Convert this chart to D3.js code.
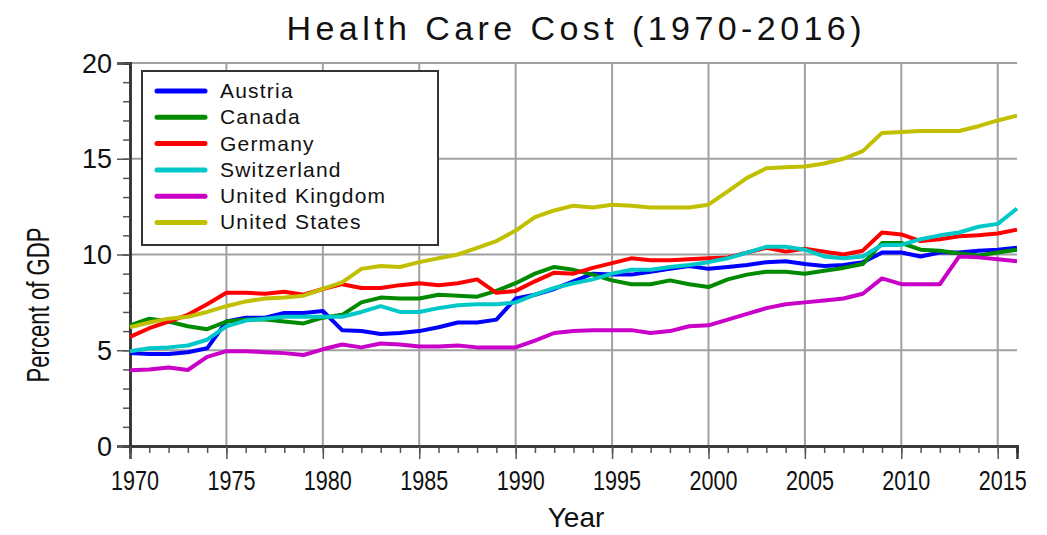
<!DOCTYPE html>
<html><head><meta charset="utf-8">
<script src="https://cdn.jsdelivr.net/npm/d3@7"></script>
<style>body{margin:0;background:#fff}svg{display:block}text{font-family:"Liberation Sans",Arial,sans-serif;fill:#111}</style>
</head><body><svg id="c" width="1047" height="535"></svg>
<script>
const years = d3.range(1970, 2017);
const countries = ["Austria","Canada","Germany","Switzerland","United Kingdom","United States"];
const colors = ["#0000ff","#008a00","#ff0000","#00c8c8","#c800c8","#c0c000"];
const austria = [4.85,4.8,4.8,4.9,5.1,6.5,6.7,6.7,6.95,6.95,7.05,6.05,6.0,5.85,5.9,6.0,6.2,6.45,6.45,6.6,7.7,7.9,8.2,8.6,9.0,8.95,8.95,9.1,9.25,9.4,9.25,9.35,9.45,9.6,9.65,9.5,9.4,9.45,9.6,10.1,10.1,9.9,10.1,10.1,10.2,10.25,10.35];
const canada = [6.3,6.65,6.5,6.25,6.1,6.5,6.6,6.6,6.5,6.4,6.7,6.85,7.5,7.75,7.7,7.7,7.9,7.85,7.8,8.1,8.5,9.0,9.35,9.2,8.95,8.65,8.45,8.45,8.65,8.45,8.3,8.7,8.95,9.1,9.1,9.0,9.15,9.3,9.5,10.6,10.6,10.25,10.2,10.05,9.95,10.1,10.25];
const germany = [5.7,6.15,6.5,6.85,7.4,8.0,8.0,7.95,8.05,7.9,8.2,8.45,8.25,8.25,8.4,8.5,8.4,8.5,8.7,8.0,8.1,8.6,9.05,9.0,9.3,9.55,9.8,9.7,9.7,9.75,9.8,9.85,10.1,10.35,10.15,10.3,10.15,10.0,10.2,11.15,11.05,10.7,10.8,10.95,11.0,11.1,11.3];
const switzerland = [4.95,5.1,5.15,5.25,5.55,6.25,6.55,6.65,6.75,6.75,6.75,6.75,7.0,7.3,7.0,7.0,7.2,7.35,7.4,7.4,7.5,7.9,8.25,8.5,8.7,9.0,9.2,9.2,9.35,9.45,9.6,9.8,10.1,10.4,10.4,10.25,9.9,9.8,9.9,10.5,10.5,10.8,11.0,11.15,11.45,11.6,12.4];
const uk = [3.95,4.0,4.1,3.97,4.65,4.95,4.95,4.9,4.85,4.75,5.05,5.3,5.15,5.35,5.3,5.2,5.2,5.25,5.15,5.15,5.15,5.5,5.9,6.0,6.05,6.05,6.05,5.9,6.0,6.25,6.3,6.6,6.9,7.2,7.4,7.5,7.6,7.7,7.95,8.75,8.45,8.45,8.45,9.9,9.85,9.75,9.65];
const us = [6.2,6.45,6.65,6.75,7.0,7.3,7.55,7.7,7.75,7.85,8.2,8.55,9.25,9.4,9.35,9.6,9.8,10.0,10.35,10.7,11.25,11.95,12.3,12.55,12.45,12.6,12.55,12.45,12.45,12.45,12.6,13.3,14.0,14.5,14.55,14.6,14.75,15.0,15.4,16.35,16.4,16.45,16.45,16.45,16.7,17.0,17.25];
const seriesValues = [austria, canada, germany, switzerland, uk, us];
const yTicks = [0,5,10,15,20];
const xTicks = [1970,1975,1980,1985,1990,1995,2000,2005,2010,2015];

const svg = d3.select("#c");
const x = d3.scaleLinear().domain([1970, 2016]).range([130, 1017]);
const y = d3.scaleLinear().domain([0, 20]).range([446, 63]);

// gridlines
svg.append("g").selectAll("line").data(yTicks.filter(d=>d>0)).join("line")
  .attr("x1", x(1970)).attr("x2", x(2016)).attr("y1", d=>y(d)).attr("y2", d=>y(d))
  .attr("stroke", "#a0a0a0").attr("stroke-width", 2);
svg.append("g").selectAll("line").data(xTicks.filter(d=>d>1970)).join("line")
  .attr("x1", d=>x(d)).attr("x2", d=>x(d)).attr("y1", y(0)).attr("y2", y(20))
  .attr("stroke", "#a0a0a0").attr("stroke-width", 2);

// axes
const yAxisMinor = d3.axisLeft(y).tickValues(d3.range(0, 21, 1)).tickSize(7).tickFormat("");
const yAxisMajor = d3.axisLeft(y).tickValues(yTicks).tickSize(13).tickFormat("");
const xAxisMinor = d3.axisBottom(x).tickValues(d3.range(1970, 2017, 1)).tickSize(7).tickFormat("");
const xAxisMajor = d3.axisBottom(x).tickValues(xTicks).tickSize(13).tickFormat("");
function styleAxis(g){ g.selectAll("path").attr("stroke","#333").attr("stroke-width",2.5); g.selectAll("line").attr("stroke","#555").attr("stroke-width",1.5); }
svg.append("g").attr("transform", `translate(${x(1970)},0)`).call(yAxisMinor).call(styleAxis);
svg.append("g").attr("transform", `translate(${x(1970)},0)`).call(yAxisMajor).call(styleAxis);
svg.append("g").attr("transform", `translate(0,${y(0)})`).call(xAxisMinor).call(styleAxis);
svg.append("g").attr("transform", `translate(0,${y(0)})`).call(xAxisMajor).call(styleAxis);

// tick labels
svg.append("g").selectAll("text").data(yTicks).join("text")
  .attr("x", 112).attr("y", d=>y(d)).attr("dy","0.36em").attr("text-anchor","end")
  .attr("font-size", 27).text(d=>d);
svg.append("g").selectAll("text").data(xTicks).join("text")
  .attr("x", d=>x(d)+5).attr("y", 490).attr("text-anchor","middle")
  .attr("font-size", 28).attr("textLength", 48).attr("lengthAdjust","spacingAndGlyphs").text(d=>d);

// lines
const line = d3.line().x((d,i)=>x(years[i])).y(d=>y(d));
svg.append("g").selectAll("path").data(seriesValues).join("path")
  .attr("d", d=>line(d)).attr("fill","none")
  .attr("stroke", (d,i)=>colors[i]).attr("stroke-width", 4).attr("stroke-linejoin","round");

// legend
const lg = svg.append("g");
lg.append("rect").attr("x",142).attr("y",71).attr("width",296).attr("height",174)
  .attr("fill","#fff").attr("stroke","#333").attr("stroke-width",2);
const rows = lg.selectAll("g.row").data(countries).join("g").attr("class","row")
  .attr("transform",(d,i)=>`translate(0,${91 + i*26.3})`);
rows.append("line").attr("x1",157).attr("x2",205).attr("y1",0).attr("y2",0)
  .attr("stroke",(d,i)=>colors[i]).attr("stroke-width",5).attr("stroke-linecap","round");
rows.append("text").attr("x",220).attr("y",0).attr("dy","0.33em").attr("font-size",21)
  .attr("letter-spacing","1.2px").text(d=>d);

// title and axis labels
svg.append("text").attr("x",574).attr("y",40).attr("text-anchor","middle").attr("font-size",34)
  .attr("textLength",575).attr("lengthAdjust","spacing").text("Health Care Cost (1970-2016)");
svg.append("text").attr("x",576).attr("y",527).attr("text-anchor","middle").attr("font-size",28).text("Year");
svg.append("text").attr("transform","translate(49,305) rotate(-90)").attr("text-anchor","middle")
  .attr("font-size",31).attr("textLength",155).attr("lengthAdjust","spacingAndGlyphs").text("Percent of GDP");
</script></body></html>
